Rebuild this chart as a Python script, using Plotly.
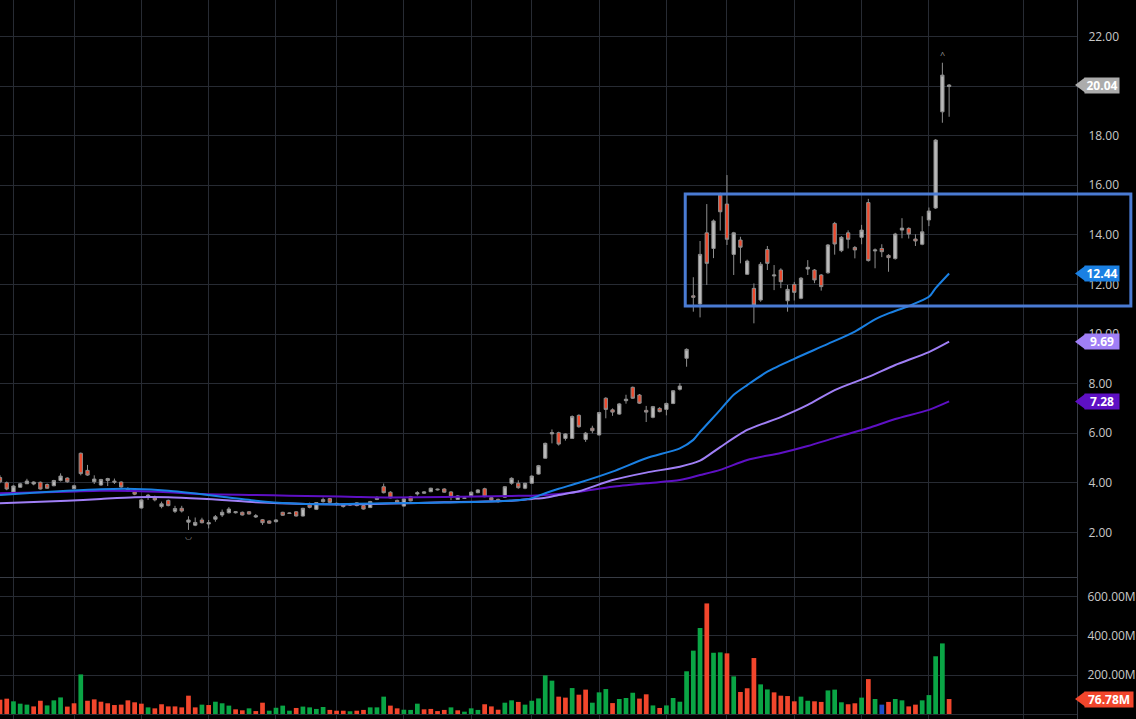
import plotly.graph_objects as go

# ---- candles (index = trading day) ----
opens = [4.21, 4.00, 3.62, 3.82, 3.96, 3.95, 4.02, 3.93, 3.88, 4.09,
         4.19, 3.76, 5.19, 4.50, 4.04, 3.91, 4.09, 4.02, 4.03, 3.76,
         3.64, 2.98, 3.44, 3.40, 3.04, 3.29, 2.85, 2.97, 2.41, 2.29,
         2.50, 2.34, 2.53, 2.70, 2.79, 2.79, 2.81, 2.83, 2.62, 2.51,
         2.46, 2.43, 2.81, 2.76, 2.83, 2.66, 3.15, 2.93, 3.24, 3.36,
         3.12, 3.13, 3.10, 3.19, 3.08, 3.00, 3.33, 3.84, 3.62, 3.29,
         3.06, 3.44, 3.55, 3.58, 3.64, 3.71, 3.75, 3.63, 3.33, 3.37,
         3.48, 3.60, 3.76, 3.40, 3.33, 3.42, 3.98, 3.98, 3.78, 3.98,
         4.35, 4.99, 5.97, 6.02, 5.79, 5.79, 6.72, 5.75, 6.20, 5.93,
         7.41, 6.94, 6.77, 7.31, 7.85, 7.54, 6.92, 6.64, 7.00, 6.96,
         7.20, 7.77, 9.02, 11.54, 11.21, 14.08, 13.45, 15.60, 15.24, 13.21,
         13.79, 12.41, 11.84, 11.37, 13.41, 12.34, 12.58, 11.34, 12.00, 11.44,
         12.62, 12.58, 12.38, 12.47, 14.46, 13.36, 14.08, 13.49, 13.90, 15.30,
         13.35, 13.45, 13.17, 13.04, 14.19, 14.26, 13.83, 13.62, 14.60, 15.08,
         18.96, 19.98]
highs = [4.30, 4.05, 3.90, 4.00, 4.16, 4.06, 4.05, 3.97, 4.12, 4.38,
         4.22, 3.92, 5.22, 4.72, 4.30, 4.16, 4.20, 4.17, 4.06, 3.82,
         3.68, 3.33, 3.55, 3.48, 3.24, 3.32, 3.07, 3.07, 2.65, 2.60,
         2.59, 2.50, 2.70, 2.92, 3.02, 2.86, 2.84, 2.86, 2.74, 2.54,
         2.48, 2.53, 2.83, 2.80, 2.85, 2.99, 3.20, 3.22, 3.40, 3.39,
         3.20, 3.15, 3.16, 3.22, 3.10, 3.27, 3.46, 3.97, 3.66, 3.32,
         3.37, 3.47, 3.66, 3.66, 3.80, 3.76, 3.78, 3.66, 3.50, 3.42,
         3.65, 3.74, 3.80, 3.43, 3.36, 3.87, 4.22, 4.10, 4.00, 4.30,
         4.72, 5.62, 6.15, 6.06, 6.00, 6.72, 6.76, 6.05, 6.30, 6.86,
         7.45, 7.00, 7.22, 7.55, 7.88, 7.58, 7.10, 7.10, 7.05, 7.23,
         7.74, 8.02, 9.42, 12.29, 13.75, 15.24, 14.62, 15.70, 16.41, 14.12,
         13.92, 13.00, 12.04, 12.90, 13.55, 12.78, 12.65, 11.98, 12.10, 12.30,
         12.98, 12.62, 12.42, 13.63, 14.52, 13.95, 14.18, 13.55, 14.40, 15.45,
         13.45, 13.62, 13.22, 14.08, 14.67, 14.30, 14.02, 14.75, 15.10, 17.86,
         20.94, 20.08]
lows = [3.98, 3.70, 3.60, 3.80, 3.95, 3.90, 3.73, 3.76, 3.86, 4.05,
        4.00, 3.74, 4.30, 4.28, 3.95, 3.88, 3.87, 3.95, 3.80, 3.64,
        3.50, 2.96, 3.31, 3.25, 2.97, 3.05, 2.78, 2.80, 2.10, 2.25,
        2.36, 2.16, 2.43, 2.62, 2.76, 2.76, 2.68, 2.72, 2.58, 2.30,
        2.35, 2.40, 2.67, 2.74, 2.64, 2.64, 2.97, 2.90, 3.20, 3.18,
        3.08, 3.00, 3.07, 3.05, 2.92, 2.98, 3.30, 3.57, 3.37, 3.17,
        3.04, 3.25, 3.48, 3.55, 3.62, 3.69, 3.60, 3.30, 3.31, 3.35,
        3.46, 3.58, 3.42, 3.29, 3.20, 3.40, 3.92, 3.76, 3.74, 3.96,
        4.33, 4.97, 5.59, 5.50, 5.70, 5.77, 6.22, 5.65, 6.00, 5.90,
        6.60, 6.70, 6.74, 7.19, 7.38, 7.18, 6.45, 6.60, 6.84, 6.72,
        7.17, 7.72, 8.68, 10.90, 10.67, 11.98, 13.06, 14.17, 13.59, 12.38,
        12.85, 12.38, 10.43, 11.30, 12.58, 11.77, 11.85, 10.90, 11.35, 11.40,
        12.38, 12.05, 11.75, 12.43, 13.20, 13.30, 13.45, 13.05, 13.62, 12.92,
        12.65, 13.10, 12.51, 13.00, 13.86, 13.85, 13.55, 13.58, 14.35, 15.04,
        18.52, 18.76]
closes = [4.04, 3.75, 3.87, 3.96, 4.07, 4.03, 3.75, 3.78, 4.09, 4.27,
          4.04, 3.88, 4.37, 4.31, 4.15, 4.13, 4.17, 4.06, 3.83, 3.67,
          3.54, 3.31, 3.50, 3.31, 3.15, 3.08, 2.96, 2.86, 2.50, 2.40,
          2.39, 2.39, 2.63, 2.81, 2.94, 2.83, 2.70, 2.74, 2.67, 2.39,
          2.37, 2.50, 2.69, 2.78, 2.66, 2.97, 3.01, 3.20, 3.32, 3.21,
          3.17, 3.04, 3.13, 3.08, 2.94, 3.24, 3.39, 3.60, 3.39, 3.19,
          3.35, 3.27, 3.60, 3.63, 3.78, 3.74, 3.62, 3.42, 3.47, 3.39,
          3.62, 3.71, 3.44, 3.31, 3.24, 3.84, 4.18, 3.80, 3.98, 4.27,
          4.69, 5.59, 6.02, 5.56, 5.97, 6.67, 6.26, 6.00, 6.10, 6.83,
          6.96, 6.85, 7.18, 7.37, 7.41, 7.21, 6.85, 7.07, 6.87, 7.20,
          7.71, 7.90, 9.38, 11.48, 13.21, 12.85, 14.56, 14.93, 13.82, 14.08,
          13.50, 12.94, 11.17, 12.81, 12.85, 12.38, 12.11, 11.80, 11.68, 12.25,
          12.69, 12.18, 11.91, 13.59, 13.63, 13.90, 13.82, 13.39, 14.19, 12.96,
          13.39, 13.32, 13.08, 14.03, 14.27, 14.03, 13.75, 14.12, 14.96, 17.82,
          20.44, 20.04]

# volume in millions, g = up, r = down, b = highlighted
volumes_m = [73.5, 78.6, 65, 53, 48, 39, 68, 44, 70, 85,
             38, 55, 203, 68, 75, 63, 55, 46, 48, 70,
             60, 53, 34, 29, 50, 39, 39, 34, 94, 34,
             48, 46, 63, 55, 43, 24, 19, 29, 15, 58,
             17, 32, 43, 17, 31, 38, 34, 26, 36, 21,
             17, 17, 14, 17, 21, 34, 34, 89, 43, 29,
             22, 21, 53, 24, 26, 15, 21, 34, 19, 12,
             29, 21, 50, 39, 22, 58, 70, 62, 48, 68,
             80, 198, 171, 89, 84, 133, 99, 125, 58, 111,
             128, 56, 77, 82, 109, 79, 101, 44, 31, 44,
             82, 63, 219, 325, 441, 567, 314, 316, 311, 193,
             113, 132, 287, 152, 126, 111, 94, 92, 65, 89,
             68, 65, 62, 121, 125, 60, 50, 55, 84, 179,
             77, 48, 62, 77, 70, 39, 48, 70, 97, 296,
             362, 76.78]
volume_dir = list("rrgggrrggg" "rrgrrrrrrr" "rrgrrrrrrr" "grgggrrgrr"
                  "ggggrggggr" "rrgrrgggrr" "gggrrrrgr" "g" "ggrrrggrgg"
                  "gggrrgrrgg" "grgggrrgrg" "gggggrggrg" "rrrggrrrrg"
                  "grrgggrrgr" "gbrggrrggg" "gr")

# moving averages (bar index -> value)
ma_fast_idx = [0, 5, 10, 15, 20, 25, 30, 33, 38, 43, 48, 53, 58, 66, 74, 78,
               79, 81, 83, 86, 91, 96, 101, 103, 104, 107, 109, 111, 114, 118,
               123, 127, 130, 132, 135, 138, 139, 141]
ma_fast = [3.51, 3.60, 3.68, 3.74, 3.75, 3.68, 3.54, 3.44, 3.28, 3.17, 3.13,
           3.15, 3.17, 3.20, 3.25, 3.33, 3.38, 3.58, 3.76, 4.00, 4.45, 4.99,
           5.39, 5.73, 6.05, 6.94, 7.55, 7.94, 8.48, 9.00, 9.60, 10.10, 10.59,
           10.83, 11.13, 11.50, 11.85, 12.44]
ma_mid_idx = [0, 10, 15, 20, 25, 30, 33, 38, 43, 48, 53, 58, 66, 76, 79, 81,
              83, 86, 91, 96, 101, 104, 107, 111, 116, 120, 124, 129, 133, 138, 141]
ma_mid = [3.17, 3.27, 3.35, 3.42, 3.42, 3.36, 3.31, 3.21, 3.16, 3.13, 3.13,
          3.16, 3.21, 3.28, 3.35, 3.40, 3.51, 3.66, 4.11, 4.41, 4.65, 4.89,
          5.44, 6.13, 6.65, 7.14, 7.74, 8.27, 8.75, 9.27, 9.69]
ma_slow_idx = [0, 10, 15, 20, 25, 30, 38, 43, 48, 53, 58, 66, 76, 79, 83, 86,
               91, 96, 101, 104, 107, 111, 116, 120, 124, 129, 133, 138, 141]
ma_slow = [3.58, 3.64, 3.68, 3.67, 3.62, 3.55, 3.51, 3.48, 3.46, 3.43, 3.41,
           3.43, 3.47, 3.48, 3.55, 3.64, 3.84, 3.98, 4.11, 4.31, 4.52, 4.92,
           5.20, 5.48, 5.81, 6.21, 6.57, 6.94, 7.28]

price_ticks = [2, 4, 6, 8, 10, 12, 14, 16, 18, 20, 22]
vol_ticks_m = [0, 200, 400, 600]
grid_days = [2, 11, 21, 31, 41, 50, 60, 70, 79, 89, 99, 108, 118, 128, 138, 152]

# consolidation box
box_start, box_end = 101.8, 168
box_low, box_high = 11.13, 15.65

x_range = [0, 160]
bg = "#000000"
grid_color = "#272b33"
line_color = "#383c45"
vol_colors = {"g": "#0aa545", "r": "#f2462c", "b": "#1f4fc9"}
fast_color, mid_color, slow_color = "#1a80e3", "#a07ff6", "#5e10c4"

days = list(range(len(closes)))

fig = go.Figure()

for xs, ys, col in [(ma_slow_idx, ma_slow, slow_color),
                    (ma_mid_idx, ma_mid, mid_color),
                    (ma_fast_idx, ma_fast, fast_color)]:
    fig.add_trace(go.Scatter(x=xs, y=ys, mode="lines", hoverinfo="skip",
                             line=dict(color=col, width=2, shape="spline", smoothing=0.7),
                             xaxis="x", yaxis="y"))

fig.add_trace(go.Candlestick(
    x=days, open=opens, high=highs, low=lows, close=closes,
    increasing=dict(fillcolor="#bababa", line=dict(color="#8e8e8e", width=1)),
    decreasing=dict(fillcolor="#ef4a2d", line=dict(color="#8e8e8e", width=1)),
    whiskerwidth=0, hoverinfo="skip", xaxis="x", yaxis="y"))

fig.add_trace(go.Bar(x=days, y=[v * 1e6 for v in volumes_m],
                     marker=dict(color=[vol_colors[d] for d in volume_dir], line=dict(width=0)),
                     hoverinfo="skip", xaxis="x2", yaxis="y2"))


def add_tag(value, text, color, yref, width):
    # price tag on the right axis: pointed tip (pixel-sized path) + text box
    fig.add_shape(type="path", xref="paper", yref=yref,
                  xsizemode="pixel", ysizemode="pixel", xanchor=1, yanchor=value,
                  path="M -2,0 L 8,7.5 L 8,-7.5 Z",
                  fillcolor=color, line=dict(width=0), layer="above")
    fig.add_annotation(x=1, xref="paper", xanchor="left", xshift=7,
                       y=value, yref=yref, yanchor="middle",
                       text="<b>" + text + "</b>", showarrow=False,
                       bgcolor=color, width=width, height=15, borderpad=0,
                       font=dict(color="#ffffff", size=12, family="Open Sans"))


add_tag(closes[-1], f"{closes[-1]:.2f}", "#acacac", "y", 34)
add_tag(ma_fast[-1], f"{ma_fast[-1]:.2f}", fast_color, "y", 34)
add_tag(ma_mid[-1], f"{ma_mid[-1]:.2f}", mid_color, "y", 34)
add_tag(ma_slow[-1], f"{ma_slow[-1]:.2f}", slow_color, "y", 34)
add_tag(volumes_m[-1] * 1e6, f"{volumes_m[-1]:.2f}M", vol_colors[volume_dir[-1]], "y2", 48)

# high / low markers
hi = highs.index(max(highs))
lo = lows.index(min(lows))
fig.add_annotation(x=hi, y=highs[hi], xref="x", yref="y", text="^", showarrow=False,
                   yshift=8, font=dict(size=9, color="#9a9a9a"))
fig.add_annotation(x=lo, y=lows[lo], xref="x", yref="y", text="◡", showarrow=False,
                   yshift=-6, font=dict(size=8, color="#9a9a9a"))

span = x_range[1] - x_range[0]
fig.add_shape(type="rect", xref="paper", yref="y",
              x0=(box_start - x_range[0]) / span, x1=(box_end - x_range[0]) / span,
              y0=box_low, y1=box_high, line=dict(color="#4a7bd3", width=3),
              fillcolor="rgba(0,0,0,0)", layer="above")

axis_common = dict(showgrid=True, gridcolor=grid_color, gridwidth=1, zeroline=False)

fig.update_layout(
    width=1136, height=719,
    margin=dict(l=0, r=56, t=0, b=0),
    paper_bgcolor=bg, plot_bgcolor=bg,
    showlegend=False, hovermode=False, bargap=0.3,
    font=dict(family="Open Sans", size=12, color="#c8c8c8"),
    xaxis=dict(domain=[0, 1], range=x_range, anchor="y", tickvals=grid_days,
               showticklabels=False, ticks="", showline=True, linecolor=line_color,
               rangeslider=dict(visible=False), **axis_common),
    xaxis2=dict(domain=[0, 1], range=x_range, anchor="y2", matches="x", tickvals=grid_days,
                showticklabels=False, ticks="", **axis_common),
    yaxis=dict(domain=[0.1975, 1], range=[0.2, 23.47], side="right",
               tickvals=price_ticks, tickformat=".2f", ticks="outside", ticklen=8,
               tickcolor=bg, showline=True, linecolor=line_color, **axis_common),
    yaxis2=dict(domain=[0, 0.196], range=[-25.6e6, 697e6], side="right",
                tickvals=[v * 1e6 for v in vol_ticks_m],
                ticktext=[f"{v:.2f}M" for v in vol_ticks_m],
                ticks="outside", ticklen=7, tickcolor=bg,
                showline=True, linecolor=line_color, **axis_common),
)

# page body has a default 8px margin; drop it so the figure fills the window
fig.write_html("out.html", config={"displayModeBar": False},
               post_script="document.body.style.margin='0';document.body.style.overflow='hidden';")
